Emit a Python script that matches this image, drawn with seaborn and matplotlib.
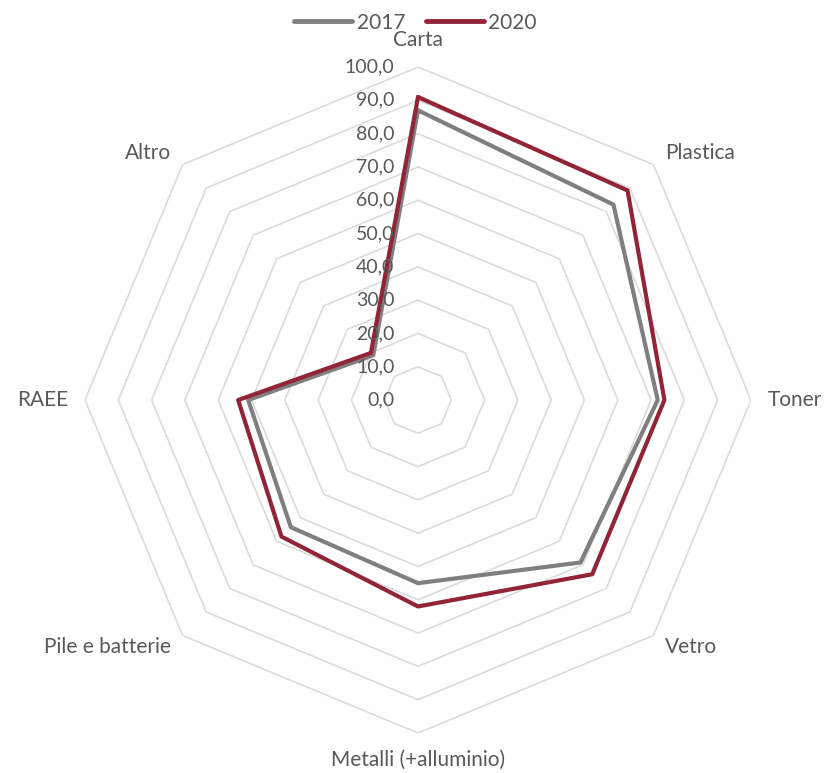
import numpy as np
import pandas as pd
import matplotlib
matplotlib.use("Agg")
import matplotlib.pyplot as plt
from matplotlib.lines import Line2D
import seaborn as sns

# dati
categorie = ["Carta", "Plastica", "Toner", "Vetro", "Metalli (+alluminio)",
             "Pile e batterie", "RAEE", "Altro"]
valori_2017 = [87, 83, 72, 69, 55, 54, 51, 19]
valori_2020 = [91, 89, 74, 74, 62, 58, 54, 20]
livelli = [0, 10, 20, 30, 40, 50, 60, 70, 80, 90, 100]
anni = ["2017", "2020"]
colori = {"2017": "#7f7f7f", "2020": "#922438"}
col_testo = "#595959"

sns.set_style("white")
plt.rcParams["font.family"] = ["Lato", "DejaVu Sans"]

n = len(categorie)
angoli = np.linspace(0, 2 * np.pi, n, endpoint=False)

# tabella lunga per seaborn (con chiusura del poligono)
righe = []
for anno, vals in zip(anni, [valori_2017, valori_2020]):
    for a, v in zip(angoli, vals):
        righe.append({"angolo": a, "valore": v, "anno": anno})
    righe.append({"angolo": 2 * np.pi, "valore": vals[0], "anno": anno})
df = pd.DataFrame(righe)

fig = plt.figure(figsize=(8.31, 7.73), dpi=100)
ax = fig.add_axes([0.1023, 0.0517, 0.8014, 0.8616], projection="polar")
ax.set_theta_zero_location("N")
ax.set_theta_direction(-1)
ax.set_ylim(0, 100)
ax.grid(False)
ax.spines["polar"].set_visible(False)
ax.set_xticks([])
ax.set_yticks([])

# griglia ottagonale
ang_chiusi = np.append(angoli, 2 * np.pi)
for l in livelli[1:]:
    ax.plot(ang_chiusi, [l] * (n + 1), color="#d9d9d9", lw=1.1, zorder=1)

sns.lineplot(data=df, x="angolo", y="valore", hue="anno", palette=colori,
             lw=3, ax=ax, legend=False, errorbar=None, zorder=3)
ax.set_xlabel("")
ax.set_ylabel("")

# etichette dei livelli
for l in livelli:
    ax.annotate(f"{l},0", xy=(0, l), xytext=(-17, 0), textcoords="offset points",
                ha="right", va="center", fontsize=14, color=col_testo)

# etichette categorie
for a, c in zip(angoli, categorie):
    s = np.sin(a)
    co = np.cos(a)
    if abs(s) < 0.01:
        ha = "center"
        va = "bottom" if co > 0 else "top"
    else:
        ha = "left" if s > 0 else "right"
        va = "center"
    ax.text(a, 105, c, ha=ha, va=va, fontsize=15, color=col_testo)

handles = [Line2D([0], [0], color=colori[a], lw=3.5) for a in anni]
fig.legend(handles, anni, loc="upper center", bbox_to_anchor=(0.5, 1.008),
           ncol=2, frameon=False, fontsize=15, handlelength=2.8,
           handletextpad=0.2, columnspacing=1.0, labelcolor=col_testo)

fig.savefig("out.png", dpi=100)
